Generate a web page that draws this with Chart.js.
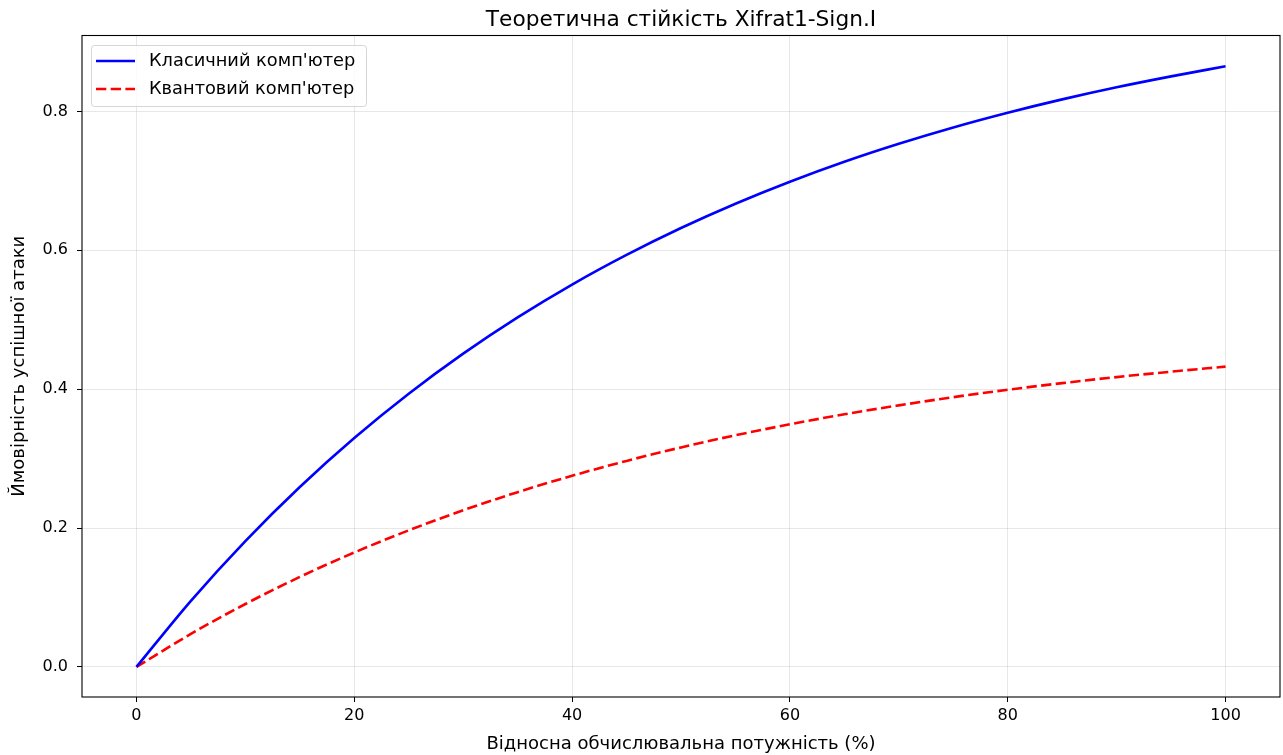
<!DOCTYPE html>
<html>
<head>
<meta charset="utf-8">
<script src="https://cdn.jsdelivr.net/npm/chart.js@4/dist/chart.umd.min.js"></script>
<style>
  html, body { margin: 0; padding: 0; background: #fff; }
  #wrap { width: 1283px; height: 755px; }
</style>
</head>
<body>
<div id="wrap"><canvas id="c" width="1283" height="755"></canvas></div>
<script>
const chartTitle = "Теоретична стійкість Xifrat1-Sign.I";
const xAxisTitle = "Відносна обчислювальна потужність (%)";
const yAxisTitle = "Ймовірність успішної атаки";
const seriesNames = ["Класичний комп'ютер", "Квантовий комп'ютер"];

const power = [0, 5, 10, 15, 20, 25, 30, 35, 40, 45, 50, 55, 60, 65, 70, 75, 80, 85, 90, 95, 100];
const classical = [0, 0.0952, 0.1813, 0.2592, 0.3297, 0.3935, 0.4512, 0.5034, 0.5507, 0.5934, 0.6321,
                   0.6671, 0.6988, 0.7275, 0.7534, 0.7769, 0.7981, 0.8173, 0.8347, 0.8504, 0.8650];
const quantum = [0, 0.0476, 0.0906, 0.1296, 0.1648, 0.1967, 0.2256, 0.2517, 0.2753, 0.2967, 0.3161,
                 0.3336, 0.3494, 0.3638, 0.3767, 0.3885, 0.3991, 0.4087, 0.4174, 0.4252, 0.4325];

const xTicks = [0, 20, 40, 60, 80, 100];
const yTicks = [0.0, 0.2, 0.4, 0.6, 0.8];

const FONT = "'DejaVu Sans', sans-serif";

const framePlugin = {
  id: 'frame',
  afterDatasetsDraw(chart) {
    const {ctx, chartArea: a} = chart;
    ctx.save();
    ctx.strokeStyle = '#000';
    ctx.lineWidth = 1.1;
    ctx.strokeRect(a.left, a.top, a.right - a.left, a.bottom - a.top);
    ctx.restore();
  }
};

const titlePlugin = {
  id: 'mplTitle',
  afterDraw(chart) {
    const {ctx, chartArea: a} = chart;
    ctx.save();
    ctx.fillStyle = '#000';
    ctx.font = "21.7px " + FONT;
    ctx.textAlign = 'center';
    ctx.textBaseline = 'alphabetic';
    ctx.fillText(chartTitle, (a.left + a.right) / 2, 26);
    ctx.restore();
  }
};

const legendPlugin = {
  id: 'mplLegend',
  afterDatasetsDraw(chart) {
    const {ctx} = chart;
    const x0 = 91.5, y0 = 45.5, w = 275, h = 61, r = 3;
    ctx.save();
    ctx.beginPath();
    ctx.moveTo(x0 + r, y0);
    ctx.lineTo(x0 + w - r, y0);
    ctx.quadraticCurveTo(x0 + w, y0, x0 + w, y0 + r);
    ctx.lineTo(x0 + w, y0 + h - r);
    ctx.quadraticCurveTo(x0 + w, y0 + h, x0 + w - r, y0 + h);
    ctx.lineTo(x0 + r, y0 + h);
    ctx.quadraticCurveTo(x0, y0 + h, x0, y0 + h - r);
    ctx.lineTo(x0, y0 + r);
    ctx.quadraticCurveTo(x0, y0, x0 + r, y0);
    ctx.closePath();
    ctx.fillStyle = 'rgba(255,255,255,0.8)';
    ctx.fill();
    ctx.strokeStyle = 'rgba(204,204,204,0.8)';
    ctx.lineWidth = 1;
    ctx.stroke();

    const items = chart.data.datasets;
    const rows = [61, 89];
    items.forEach((ds, i) => {
      const y = rows[i];
      ctx.beginPath();
      ctx.strokeStyle = ds.borderColor;
      ctx.lineWidth = ds.borderWidth;
      ctx.setLineDash(ds.borderDash || []);
      ctx.moveTo(96, y);
      ctx.lineTo(135, y);
      ctx.stroke();
      ctx.setLineDash([]);
      ctx.fillStyle = '#000';
      ctx.font = "17.8px " + FONT;
      ctx.textAlign = 'left';
      ctx.textBaseline = 'middle';
      ctx.fillText(ds.label, 149, y);
    });
    ctx.restore();
  }
};

new Chart(document.getElementById('c'), {
  type: 'line',
  data: {
    datasets: [
      {
        label: seriesNames[0],
        data: power.map((x, i) => ({x, y: classical[i]})),
        borderColor: '#0000ff',
        borderWidth: 2.6,
        pointRadius: 0,
        cubicInterpolationMode: 'monotone',
        fill: false
      },
      {
        label: seriesNames[1],
        data: power.map((x, i) => ({x, y: quantum[i]})),
        borderColor: '#ff0000',
        borderWidth: 2.6,
        borderDash: [10.3, 4.4],
        pointRadius: 0,
        cubicInterpolationMode: 'monotone',
        fill: false
      }
    ]
  },
  options: {
    responsive: false,
    animation: false,
    devicePixelRatio: 1,
    layout: { padding: { top: 35.5, right: 3, left: 0, bottom: 0 } },
    plugins: {
      legend: { display: false },
      title: { display: false },
      tooltip: { enabled: false }
    },
    scales: {
      x: {
        type: 'linear',
        min: -5,
        max: 105,
        afterFit(s) { s.height = 58; },
        afterBuildTicks(s) { s.ticks = xTicks.map(v => ({value: v})); },
        border: { display: false },
        grid: {
          color: 'rgba(176,176,176,0.3)',
          lineWidth: 1,
          tickColor: '#000',
          tickLength: 5,
          tickWidth: 1
        },
        ticks: {
          color: '#000',
          font: { family: FONT, size: 16 },
          padding: 4,
          maxRotation: 0,
          autoSkip: false,
          callback: v => String(v)
        },
        title: {
          display: true,
          text: xAxisTitle,
          color: '#000',
          font: { family: FONT, size: 18 },
          padding: { top: 0, bottom: 0 }
        }
      },
      y: {
        type: 'linear',
        min: -0.0433,
        max: 0.9093,
        afterFit(s) { s.width = 82; },
        afterBuildTicks(s) { s.ticks = yTicks.map(v => ({value: v})); },
        border: { display: false },
        grid: {
          color: 'rgba(176,176,176,0.3)',
          lineWidth: 1,
          tickColor: '#000',
          tickLength: 5,
          tickWidth: 1
        },
        ticks: {
          color: '#000',
          font: { family: FONT, size: 16 },
          padding: 9,
          autoSkip: false,
          callback: v => v.toFixed(1)
        },
        title: {
          display: true,
          text: yAxisTitle,
          color: '#000',
          font: { family: FONT, size: 18 },
          padding: { top: 9, bottom: 0 }
        }
      }
    }
  },
  plugins: [framePlugin, titlePlugin, legendPlugin]
});
</script>
</body>
</html>
